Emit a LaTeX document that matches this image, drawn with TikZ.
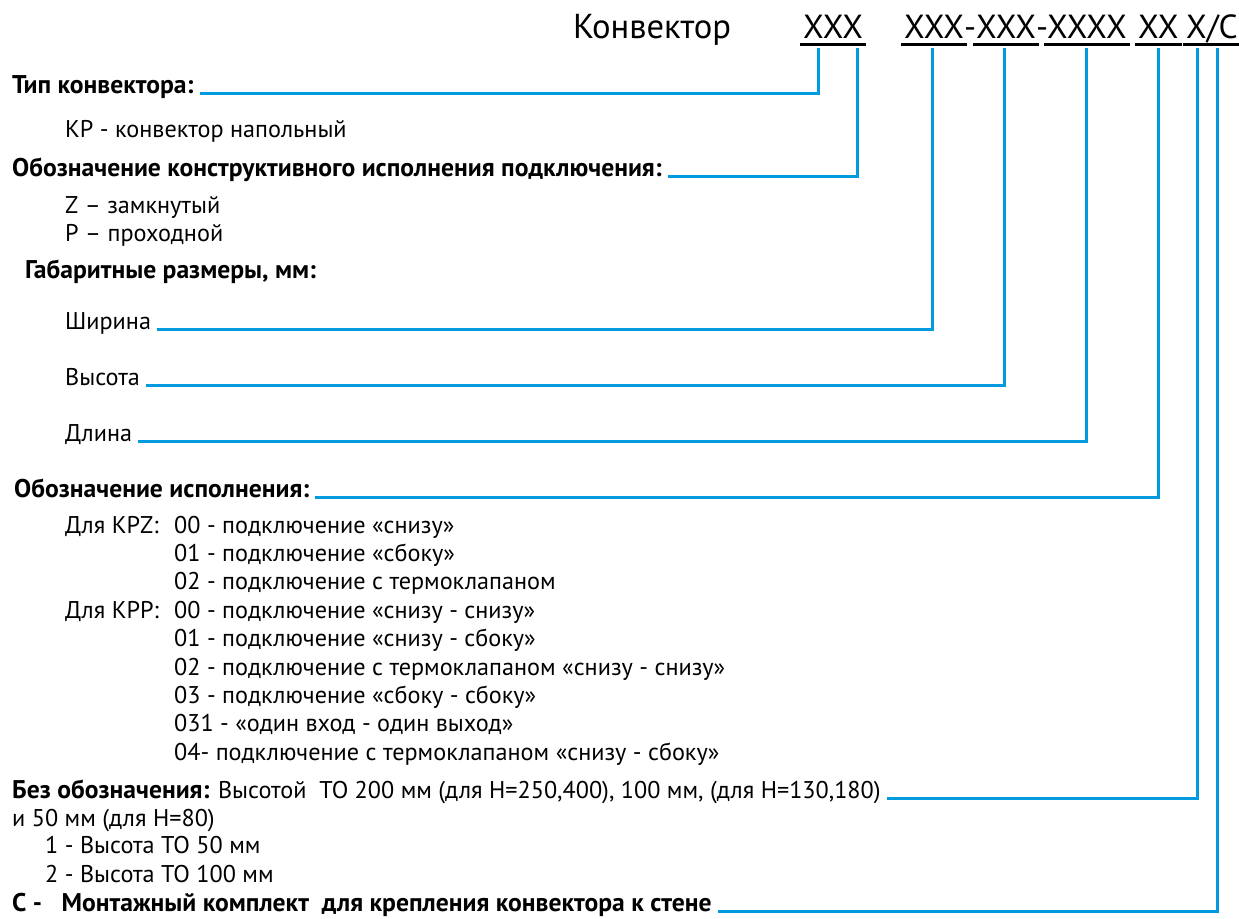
\documentclass[tikz,border=0pt]{standalone}
\usepackage{fontspec}
\setmainfont{PT Sans}
\usepackage{tikz}
\usetikzlibrary{positioning}
\definecolor{lineblue}{RGB}{0,155,222}

\begin{document}
\begin{tikzpicture}[x=1pt,y=-1pt,
    txt/.style={anchor=base west,inner sep=0pt,font=\fontsize{24.2}{28}\selectfont},
    hdr/.style={txt,font=\fontsize{34.6}{40}\selectfont},
    codetxt/.style={txt,font=\fontsize{33.4}{38}\selectfont},
    hdrtxt/.style={txt,font=\fontsize{25.6}{30}\selectfont\bfseries},
    conn/.style={draw=lineblue,line width=3pt},
    uline/.style={draw=black,line width=3pt}]
    \useasboundingbox (0,0) rectangle (1239,918);
    % header with the code
    \node[hdr] (title) at (573,38) {Конвектор};
    \node[codetxt] (cA) at (803,38) {XXX};
    \node[codetxt] (cB) at (904,38) {XXX};
    \node[codetxt] (dA) at (964,38) {-};
    \node[codetxt] (cC) at (976,38) {XXX};
    \node[codetxt] (dB) at (1036,38) {-};
    \node[codetxt] (cD) at (1047,38) {XXXX};
    \node[codetxt] (cE) at (1138,38) {XX};
    \node[codetxt] (cF) at (1186,38) {X/C};
    \foreach \c in {cA,cB,cC,cD,cE,cF}
        \draw[uline] ([xshift=-3pt,yshift=-6pt]\c.base west) -- ([xshift=3pt,yshift=-6pt]\c.base east);
    % ends of the leaders under the code
    \coordinate (eA) at (818,48);
    \coordinate (eB) at (857,48);
    \coordinate (eC) at (932,48);
    \coordinate (eD) at (1004,48);
    \coordinate (eE) at (1086,48);
    \coordinate (eF) at (1158,48);
    \coordinate (eG) at (1197,48);
    \coordinate (eH) at (1217,48);
    % left column
    \node[hdrtxt] (tip) at (12,93) {Тип конвектора:};
    \node[txt] (kp) at (65,137) {КР - конвектор напольный};
    \node[hdrtxt] (konstr) at (12,176) {Обозначение конструктивного исполнения подключения:};
    \node[txt] (zam) at (65,213) {Z – замкнутый};
    \node[txt] (prok) at (65,241) {Р – проходной};
    \node[hdrtxt] (gabar) at (25,278) {Габаритные размеры, мм:};
    \node[txt] (shir) at (65,329) {Ширина};
    \node[txt] (vys) at (65,385) {Высота};
    \node[txt] (dlin) at (65,441) {Длина};
    \node[hdrtxt] (ispoln) at (14,497) {Обозначение исполнения:};
    \node[txt] (dlaz) at (65,533) {Для КРZ:};
    \node[txt] (dlap) at (65,618) {Для КРР:};
    \foreach \t [count=\i] in {00 - подключение «снизу»,
        01 - подключение «сбоку»,
        02 - подключение с термоклапаном,
        00 - подключение «снизу - снизу»,
        01 - подключение «снизу - сбоку»,
        02 - подключение с термоклапаном «снизу - снизу»,
        03 - подключение «сбоку - сбоку»,
        031 - «один вход - один выход»,
        04- подключение с термоклапаном «снизу - сбоку»}
        \node[txt] (var\i) at (174,504.6+28.4*\i) {\t};
    \node[txt] (bez) at (12,798) {\textbf{\fontsize{25.6}{30}\selectfont Без обозначения:} Высотой\ \ ТО 200 мм (для Н=250,400), 100 мм, (для Н=130,180)};
    \node[txt] (bezb) at (12,826) {и 50 мм (для Н=80)};
    \node[txt] (to50) at (45,853) {1 - Высота ТО 50 мм};
    \node[txt] (to100) at (45,882) {2 - Высота ТО 100 мм};
    \node[hdrtxt] (mont) at (12,911) {С -\ \ \ Монтажный комплект\ \ для крепления конвектора к стене};
    % leaders
    \draw[conn] (tip.base east) ++(6,0) -- (tip.base -| eA) -- (eA);
    \draw[conn] (konstr.base east) ++(6,0) -- (konstr.base -| eB) -- (eB);
    \draw[conn] (shir.base east) ++(6,0) -- (shir.base -| eC) -- (eC);
    \draw[conn] (vys.base east) ++(6,0) -- (vys.base -| eD) -- (eD);
    \draw[conn] (dlin.base east) ++(6,0) -- (dlin.base -| eE) -- (eE);
    \draw[conn] (ispoln.base east) ++(6,0) -- (ispoln.base -| eF) -- (eF);
    \draw[conn] (bez.base east) ++(6,0) -- (bez.base -| eG) -- (eG);
    \draw[conn] (mont.base east) ++(6,0) -- (mont.base -| eH) -- (eH);
\end{tikzpicture}
\end{document}
